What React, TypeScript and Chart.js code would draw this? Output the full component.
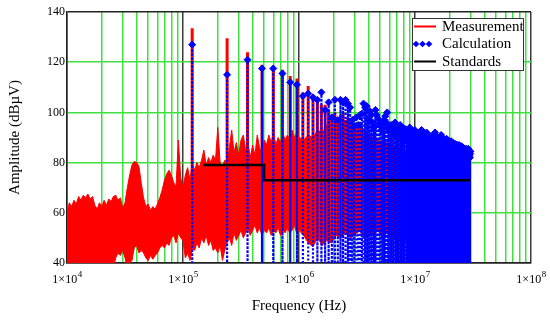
import React, { useEffect, useRef } from 'react';
import { Chart, registerables } from 'chart.js';
Chart.register(...registerables);

const FONT = '"Liberation Serif", "Times New Roman", serif';

// Fundamental switching frequency (Hz); harmonic n sits at n * F0
const F0 = 1.2e5;

// Calculated spectrum: peak level of each harmonic (dBµV), n = 1..250
const calcPeaks = [
  127, 115, 121, 117.5, 117.5, 115.5, 112, 111, 106.5, 107.5,
  106, 105, 108, 101, 104, 98, 105, 97, 105, 104,
  105, 103.5, 102, 97, 94.5, 98, 95, 99, 99.5, 103.5,
  102, 102.5, 97, 100.5, 99, 96, 94, 101, 99, 97.5,
  95, 96, 93, 95.5, 97, 98.5, 96, 100, 94, 93,
  93, 95, 92, 94, 91, 96, 93, 92, 90, 94,
  92, 95, 91, 94, 90, 92, 89, 93.5, 91, 90,
  93, 89, 92, 90.5, 94, 88, 91, 92.5, 90, 89,
  92, 90, 93, 88, 91, 92, 89, 90.5, 91.5, 88,
  91, 89, 92.5, 90, 93, 89, 91, 91.5, 88, 90,
  91.5, 89, 91, 88, 92, 90, 87, 91, 89, 90,
  88, 90.5, 87, 90, 89, 90.5, 88, 89.5, 87, 89,
  90, 88, 89.5, 92, 89, 87, 89.5, 88, 90, 87,
  89, 89.5, 87, 88, 90, 86, 89, 88, 89.5, 91,
  88, 90, 87, 89, 89.5, 86, 88, 89, 87, 89,
  88, 86, 89, 87, 89, 89.5, 87, 88, 86, 88.5,
  87, 88, 86, 88.5, 87, 85, 88, 86, 88, 87,
  88.5, 86, 87.5, 85, 87, 88, 86, 87, 85, 87.5,
  86, 87, 85, 87.5, 86, 84, 87, 85, 86, 87,
  85, 86, 84, 87, 85, 86, 84, 85, 86.5, 87,
  85, 86, 84, 85, 86.5, 84, 86, 85, 83, 86.5,
  85, 84, 86, 83, 85, 84, 86, 83, 84, 85,
  83, 85, 84, 85.5, 83, 84, 85, 83, 84, 85.5,
  83, 84, 85, 83, 84, 82, 84.5, 83, 84, 85.5,
  84, 83, 84.5, 82, 84, 83, 84.5, 82, 83.5, 84.5,
];
// level between harmonics (below the visible range)
const calcFloor = 30;
// harmonics above this order are packed below one pixel apart (drawn solid)
const calcDenseFrom = 70;

// Measured harmonic spikes (n = 1..30), peak level in dBµV
const measSpikePeaks = [
  133.5, 129.5, 124, 119, 118.5, 117, 114.5, 113.5, 108, 110.5,
  106, 105, 103, 103, 101, 99, 100, 98, 99, 100,
  97, 98, 97, 96, 95, 96, 94, 95, 94, 93,
];
const measSpikeBase = 65;

// Measured broadband noise band: log10(frequency) with upper / lower edges
const measLogF = [
  4.00, 4.02, 4.04, 4.06, 4.08, 4.10, 4.12, 4.14, 4.16, 4.18,
  4.20, 4.22, 4.24, 4.26, 4.28, 4.30, 4.32, 4.34, 4.36, 4.38,
  4.40, 4.42, 4.44, 4.46, 4.48, 4.50, 4.52, 4.54, 4.56, 4.58,
  4.60, 4.62, 4.64, 4.66, 4.68, 4.70, 4.72, 4.74, 4.76, 4.78,
  4.80, 4.82, 4.84, 4.86, 4.88, 4.90, 4.92, 4.94, 4.96, 4.98,
  5.00, 5.02, 5.04, 5.06, 5.08, 5.10, 5.12, 5.14, 5.16, 5.18,
  5.20, 5.22, 5.24, 5.26, 5.28, 5.30, 5.32, 5.34, 5.36, 5.38,
  5.40, 5.42, 5.44, 5.46, 5.48, 5.50, 5.52, 5.54, 5.56, 5.58,
  5.60, 5.62, 5.64, 5.66, 5.68, 5.70, 5.72, 5.74, 5.76, 5.78,
  5.80, 5.82, 5.84, 5.86, 5.88, 5.90, 5.92, 5.94, 5.96, 5.98,
  6.00, 6.04, 6.08, 6.12, 6.16, 6.20, 6.24, 6.28, 6.32, 6.36,
  6.40, 6.44, 6.48, 6.52, 6.56, 6.60, 6.64, 6.68, 6.72, 6.76,
  6.80, 6.84, 6.88, 6.92, 6.96, 7.00, 7.04, 7.08, 7.12, 7.16,
  7.20, 7.24, 7.28, 7.32, 7.36, 7.40, 7.44, 7.477,
];
const measHigh = [
  60, 64, 62.5, 65, 63.5, 66.5, 65, 67, 66, 67.5,
  65.5, 66.5, 63, 61.5, 64, 62.5, 65, 63, 65.5, 64.5,
  66.5, 67, 65, 66, 62, 64, 70, 75, 79, 80.5,
  80, 78.5, 72, 66, 62.5, 63.5, 61, 62.5, 61.5, 63.5,
  66, 69, 73, 75.5, 77, 75, 72, 70.5, 89, 74,
  70, 75, 78, 73, 80, 77, 80, 78, 81, 85,
  79, 82, 80, 83, 81, 94, 80, 78, 81, 79,
  86, 93, 84, 88, 83, 89, 91, 85, 88, 82,
  87, 83, 91, 86, 84, 89, 87, 91, 88, 92,
  87, 90, 88, 92, 89, 91, 89, 93, 90, 92,
  90, 89, 91, 90, 93, 92, 95, 97, 98, 97,
  96, 95, 93, 94, 92, 91, 90, 89, 88, 88,
  87, 86, 85, 84, 84, 83, 82, 80, 78, 76,
  74, 72, 69, 66, 63, 60, 57, 55,
];
const measLow = [
  38, 38, 38, 38, 38, 38, 38, 38, 38, 38,
  38, 38, 38, 38, 38, 38, 38, 38, 38, 38,
  38, 42, 44, 43, 45, 42, 38, 40, 41, 46,
  47, 44, 45, 44, 42, 41, 43, 41.5, 43, 44,
  46, 47, 46, 48, 47, 50, 51, 48, 52, 50,
  49, 42, 44, 41, 46, 45, 48, 46, 50, 48,
  51, 47, 49, 45, 46, 44, 47, 41, 45, 48,
  50, 47, 52, 49, 51, 53, 50, 52, 54, 51,
  53, 55, 52, 54, 51, 53, 52, 54, 51, 53,
  52, 54, 51, 53, 52, 54, 52, 53, 55, 52,
  53, 51, 48, 46.5, 50, 47, 49, 48, 51, 50,
  52, 50, 51, 53, 50, 52, 51, 53, 50, 52,
  51, 49, 50, 48, 49, 47, 48, 46, 47, 45,
  46, 45, 44, 45, 44, 45, 44, 45,
];

// Conducted emission limit (standard)
const stdFreq = [1.5e5, 5e5, 5e5, 3e7];
const stdLevel = [79, 79, 73, 73];

// Axes
const xTickDecades = [1e4, 1e5, 1e6, 1e7, 1e8];
const xTickExponents = ['4', '5', '6', '7', '8'];
const xGridMultipliers = [1, 2, 3, 4, 5, 6, 7, 8, 9];
const yMin = 40;
const yMax = 140;
const yStep = 20;

const seriesLabels = ['Measurement', 'Calculation', 'Standards'];
const RED = '#ff0000';
const BLUE = '#0000ff';
const GREEN = '#3fdf3f';

function isDecade(v: number) {
  const l = Math.log10(v);
  return Math.abs(l - Math.round(l)) < 1e-9;
}

function diamond(ctx: CanvasRenderingContext2D, x: number, y: number, r: number) {
  ctx.beginPath();
  ctx.moveTo(x, y - r);
  ctx.lineTo(x + r, y);
  ctx.lineTo(x, y + r);
  ctx.lineTo(x - r, y);
  ctx.closePath();
  ctx.fill();
}

const overlayPlugin = {
  id: 'overlay',
  afterDraw(chart: any) {
    const { ctx, chartArea, scales } = chart;
    const xs = scales.x;
    ctx.save();
    // x tick labels 1×10^n
    ctx.fillStyle = '#000';
    ctx.textBaseline = 'alphabetic';
    xTickDecades.forEach((v, i) => {
      const px = xs.getPixelForValue(v);
      const base = '1×10';
      const ex = xTickExponents[i];
      ctx.font = `12px ${FONT}`;
      const w1 = ctx.measureText(base).width;
      ctx.font = `9px ${FONT}`;
      const w2 = ctx.measureText(ex).width;
      const sx = px - (w1 + w2) / 2;
      const y = chartArea.bottom + 20;
      ctx.font = `12px ${FONT}`;
      ctx.fillText(base, sx, y);
      ctx.font = `9px ${FONT}`;
      ctx.fillText(ex, sx + w1 + 0.5, y - 6);
    });

    // legend box
    const bw = 111;
    const bh = 52;
    const lx = Math.round(chartArea.right - 8 - bw);
    const ly = Math.round(chartArea.top + 6);
    ctx.fillStyle = '#fff';
    ctx.fillRect(lx, ly, bw, bh);
    ctx.strokeStyle = '#333';
    ctx.lineWidth = 1;
    ctx.strokeRect(lx + 0.5, ly + 0.5, bw, bh);

    const rows = [ly + 8.5, ly + 26, ly + 43.5];
    // Measurement
    ctx.strokeStyle = RED;
    ctx.lineWidth = 2;
    ctx.beginPath();
    ctx.moveTo(lx + 2, rows[0]);
    ctx.lineTo(lx + 24, rows[0]);
    ctx.stroke();
    // Calculation
    ctx.fillStyle = BLUE;
    [4, 10.5, 17].forEach((dx) => diamond(ctx, lx + dx, rows[1], 3.3));
    // Standards
    ctx.strokeStyle = '#000';
    ctx.beginPath();
    ctx.moveTo(lx + 2, rows[2]);
    ctx.lineTo(lx + 24, rows[2]);
    ctx.stroke();

    ctx.fillStyle = '#000';
    ctx.font = `15px ${FONT}`;
    ctx.textBaseline = 'middle';
    seriesLabels.forEach((t, i) => ctx.fillText(t, lx + 30, rows[i] + 0.5));
    ctx.restore();
  },
};

export default function App() {
  const ref = useRef<HTMLCanvasElement>(null);

  useEffect(() => {
    if (!ref.current) return;

    const upper = measLogF.map((lf, i) => ({ x: Math.pow(10, lf), y: measHigh[i] }));
    const lower = measLogF.map((lf, i) => ({ x: Math.pow(10, lf), y: measLow[i] }));

    const spikes: { x: number; y: number }[] = [];
    measSpikePeaks.forEach((p, i) => {
      const f = F0 * (i + 1);
      spikes.push({ x: f, y: measSpikeBase }, { x: f, y: p }, { x: f, y: measSpikeBase });
    });

    const calc: { x: number; y: number }[] = [];
    const calcRadius: number[] = [];
    calcPeaks.forEach((p, i) => {
      const f = F0 * (i + 1);
      calc.push({ x: f, y: calcFloor }, { x: f, y: p }, { x: f, y: calcFloor });
      calcRadius.push(0, 3.5, 0);
    });

    const std = stdFreq.map((f, i) => ({ x: f, y: stdLevel[i] }));

    const xGrid: number[] = [];
    xTickDecades.forEach((d, i) => {
      if (i === xTickDecades.length - 1) xGrid.push(d);
      else xGridMultipliers.forEach((m) => xGrid.push(d * m));
    });

    const chart = new Chart(ref.current, {
      type: 'line',
      data: {
        datasets: [
          {
            label: seriesLabels[0],
            data: upper,
            borderColor: RED,
            backgroundColor: RED,
            borderWidth: 1,
            pointRadius: 0,
            fill: 1,
            order: 3,
          },
          {
            label: 'lower',
            data: lower,
            borderColor: RED,
            borderWidth: 1,
            pointRadius: 0,
            fill: false,
            order: 4,
          },
          {
            label: 'spikes',
            data: spikes,
            borderColor: RED,
            borderWidth: 3,
            pointRadius: 0,
            fill: false,
            order: 2,
          },
          {
            label: seriesLabels[1],
            data: calc,
            borderColor: BLUE,
            borderWidth: 2.2,
            borderDash: [2, 2],
            segment: {
              borderDash: (c: any) =>
                Math.floor(c.p0DataIndex / 3) + 1 >= calcDenseFrom ? [] : [2, 2],
              borderWidth: (c: any) =>
                Math.floor(c.p0DataIndex / 3) + 1 >= calcDenseFrom ? 1.4 : 2.2,
            },
            pointRadius: calcRadius,
            pointStyle: 'rectRot',
            pointBackgroundColor: BLUE,
            pointBorderColor: BLUE,
            pointBorderWidth: 1,
            fill: false,
            order: 1,
          },
          {
            label: seriesLabels[2],
            data: std,
            borderColor: '#000',
            borderWidth: 2.5,
            pointRadius: 0,
            fill: false,
            order: 0,
          },
        ],
      },
      options: {
        responsive: false,
        devicePixelRatio: 1,
        animation: false,
        events: [],
        layout: { padding: { left: 0, right: 19, top: 12, bottom: 0 } },
        plugins: { legend: { display: false }, tooltip: { enabled: false } },
        scales: {
          x: {
            type: 'logarithmic',
            min: xTickDecades[0],
            max: xTickDecades[xTickDecades.length - 1],
            afterBuildTicks: (scale: any) => {
              scale.ticks = xGrid.map((v) => ({ value: v }));
            },
            afterFit: (scale: any) => {
              scale.height = 59;
            },
            ticks: { display: false },
            grid: {
              drawTicks: false,
              color: (c: any) => (isDecade(c.tick.value) ? '#3a3a3a' : GREEN),
              lineWidth: 1.5,
            },
            border: { display: true, color: '#222', width: 1.5 },
            title: {
              display: true,
              text: 'Frequency (Hz)',
              color: '#000',
              font: { family: FONT, size: 15 },
              padding: { top: 0, bottom: 7 },
            },
          },
          y: {
            type: 'linear',
            min: yMin,
            max: yMax,
            afterFit: (scale: any) => {
              scale.width = 67;
            },
            ticks: {
              stepSize: yStep,
              color: '#000',
              padding: 2,
              font: { family: FONT, size: 12 },
            },
            grid: {
              drawTicks: false,
              color: (c: any) =>
                c.tick.value === yMin || c.tick.value === yMax ? '#222' : GREEN,
              lineWidth: 1.5,
            },
            border: { display: true, color: '#222', width: 1.5 },
            title: {
              display: true,
              text: 'Amplitude (dBµV)',
              color: '#000',
              font: { family: FONT, size: 15 },
              padding: { top: 6, bottom: 0 },
            },
          },
        },
      },
      plugins: [overlayPlugin],
    } as any);

    return () => chart.destroy();
  }, []);

  return (
    <div style={{ position: 'fixed', left: 0, top: 0, width: 550, height: 322, background: '#fff' }}>
      <canvas ref={ref} width={550} height={322} style={{ display: 'block', width: 550, height: 322 }} />
    </div>
  );
}
